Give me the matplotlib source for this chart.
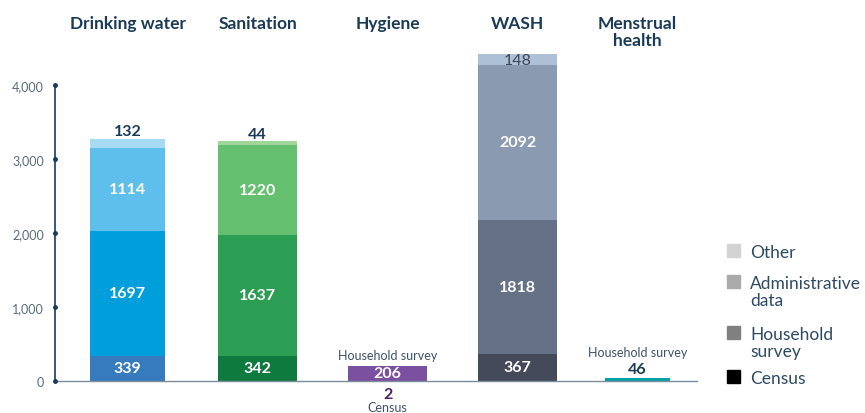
import numpy as np
import matplotlib.pyplot as plt
from matplotlib.patches import Rectangle

plt.rcParams['font.family'] = ['Lato', 'DejaVu Sans']

categories = ["Drinking water", "Sanitation", "Hygiene", "WASH", "Menstrual\nhealth"]
census = [339, 342, 2, 367, 0]
household = [1697, 1637, 206, 1818, 46]
admin = [1114, 1220, 0, 2092, 0]
other = [132, 44, 0, 148, 0]

colours = [
    ["#377BBF", "#009FDB", "#5EBFEC", "#A7DBF3"],
    ["#0E7A3E", "#2C9E53", "#64BF6E", "#9FD69A"],
    ["#4E2062", "#7C50A0", "#7C50A0", "#7C50A0"],
    ["#454A5B", "#647186", "#8A9AB1", "#ADC0D5"],
    ["#00A2A7", "#00A2A7", "#00A2A7", "#00A2A7"],
]
xpos = [0, 1, 2, 3, 3.92]
widths = [0.58, 0.61, 0.61, 0.61, 0.5]

navy = "#1B3A57"
W, H = 865, 414
fig = plt.figure(figsize=(W / 100, H / 100), dpi=100)
ax = fig.add_axes([55 / W, 32 / H, 642 / W, 382 / H])
ax.set_xlim(-0.56, 4.38)
ax.set_ylim(0, 5170)

for i in range(len(categories)):
    bottom = 0
    segs = [census[i], household[i], admin[i], other[i]]
    for j, v in enumerate(segs):
        if v == 0:
            continue
        ax.bar(xpos[i], v, widths[i], bottom=bottom, color=colours[i][j], linewidth=0)
        bottom += v

vfs = 11.5
# values inside the big segments
for i in [0, 1, 3]:
    ax.text(xpos[i], census[i] / 2, str(census[i]), ha='center', va='center',
            color='white', fontsize=vfs, fontweight='bold')
    ax.text(xpos[i], census[i] + household[i] / 2, str(household[i]), ha='center',
            va='center', color='white', fontsize=vfs, fontweight='bold')
    ax.text(xpos[i], census[i] + household[i] + admin[i] / 2, str(admin[i]),
            ha='center', va='center', color='white', fontsize=vfs, fontweight='bold')

# "other" values
for i in [0, 1]:
    top = census[i] + household[i] + admin[i] + other[i]
    ax.text(xpos[i], top + 10, str(other[i]), ha='center', va='bottom',
            color=navy, fontsize=vfs, fontweight='bold')
ax.text(xpos[3], census[3] + household[3] + admin[3] + other[3] / 2, str(other[3]),
        ha='center', va='center', color="#3F4656", fontsize=vfs)

# hygiene
ax.text(xpos[2], census[2] + household[2] / 2, str(household[2]), ha='center',
        va='center', color='white', fontsize=vfs, fontweight='bold')
ax.text(xpos[2], census[2] + household[2] + 60, "Household survey", ha='center',
        va='bottom', color="#3F5166", fontsize=9)
ax.text(xpos[2], -80, str(census[2]), ha='center', va='top', color="#4E2062",
        fontsize=vfs, fontweight='bold')
ax.text(xpos[2], -270, "Census", ha='center', va='top', color="#3F5166",
        fontsize=9, clip_on=False)

# menstrual health
ax.text(xpos[4], household[4] + 20, str(household[4]), ha='center', va='bottom',
        color=navy, fontsize=vfs, fontweight='bold')
ax.text(xpos[4], household[4] + 270, "Household survey", ha='center', va='bottom',
        color="#3F5166", fontsize=9)

# titles
for i, c in enumerate(categories):
    ax.text(xpos[i], 4950, c, ha='center', va='top', color=navy, fontsize=12.5,
            fontweight='bold', linespacing=1.05)

# axes styling
for s in ['top', 'right']:
    ax.spines[s].set_visible(False)
ax.spines['left'].set_bounds(0, 4000)
ax.spines['left'].set_color(navy)
ax.spines['left'].set_linewidth(1.2)
ax.spines['bottom'].set_color("#7D8C9B")
ax.spines['bottom'].set_linewidth(1.0)
ax.set_xticks([])
yt = [0, 1000, 2000, 3000, 4000]
ax.set_yticks(yt)
ax.set_yticklabels([f"{v:,}" for v in yt], color="#5A6B7C", fontsize=9)
ax.tick_params(axis='y', length=0, pad=8)
ax.plot([-0.56] * len(yt), yt, 'o', color=navy, markersize=2.5, clip_on=False, zorder=5)

# legend
legend_items = [("Other", "#D3D3D3", 251), ("Administrative\ndata", "#AAAAAA", 282),
                ("Household\nsurvey", "#808080", 333), ("Census", "#000000", 377)]
for label, col, py in legend_items:
    fig.patches.append(Rectangle((727 / W, 1 - (py + 6.5) / H), 13 / W, 13 / H,
                                 transform=fig.transFigure, color=col))
    fig.text(750 / W, 1 - (py - 6) / H, label, ha='left', va='top', color="#2E4A63",
             fontsize=12.5, linespacing=1.08)

fig.savefig("out.png", dpi=100)
